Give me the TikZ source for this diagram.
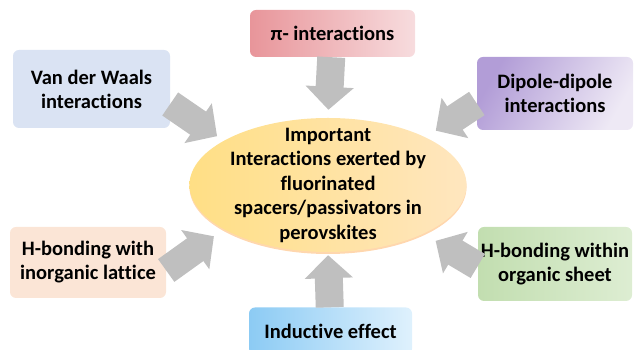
\documentclass[tikz,border=0pt]{standalone}
\usepackage{fontspec}
\setmainfont{Carlito}[Ligatures=NoCommon]
\usetikzlibrary{arrows.meta,shapes.geometric,shadows}
\definecolor{arrowgray}{HTML}{BFBFBF}
\definecolor{piL}{HTML}{E8959A}
\definecolor{piR}{HTML}{F7DCDE}
\definecolor{vdwfill}{HTML}{DAE3F3}
\definecolor{dipL}{HTML}{B29DD7}
\definecolor{dipR}{HTML}{EEE9F5}
\definecolor{inorgfill}{HTML}{FBE5D6}
\definecolor{orgL}{HTML}{C2DEB0}
\definecolor{orgR}{HTML}{DDEDD2}
\definecolor{indL}{HTML}{8CCBF4}
\definecolor{indR}{HTML}{DFF1FD}
\definecolor{coreL}{HTML}{FFDF85}
\definecolor{coreR}{HTML}{FFE6BF}
\begin{document}
\begin{tikzpicture}[x=1pt,y=1pt,
    font=\bfseries\fontsize{20.5}{24}\selectfont,
    box/.style={rounded corners=6pt, align=center, inner sep=0pt},
    bigarrow/.style={draw=arrowgray, line width=28pt, -{Triangle[length=23pt,width=47pt]}}]
    \useasboundingbox (0,0) rectangle (635,350);
    % interaction boxes
    \node[box, left color=piL, right color=piR, minimum width=165pt, minimum height=47pt] (pi) at (332.5, 316.5) {π- interactions};
    \node[box, fill=vdwfill, minimum width=157pt, minimum height=78pt] (vdw) at (91.5, 261) {Van der Waals\\interactions};
    \node[box, left color=dipL, right color=dipR, shading angle=60, minimum width=156pt, minimum height=73pt] (dip) at (555, 256.5) {Dipole-dipole\\interactions};
    \node[box, fill=inorgfill, minimum width=156pt, minimum height=71pt] (inorg) at (88, 87.5) {H-bonding with\\inorganic lattice};
    \node[box, left color=orgL, right color=orgR, minimum width=154pt, minimum height=74pt] (org) at (555, 86) {H-bonding within\\organic sheet};
    \node[box, left color=indL, right color=indR, minimum width=163pt, minimum height=47pt] (ind) at (330.5, 19) {Inductive effect};
    % centre
    \node[ellipse, left color=coreL, right color=coreR, minimum width=270pt, minimum height=134pt,
        inner xsep=0pt, inner ysep=-14pt, align=center, font=\bfseries\fontsize{20.5}{24.5}\selectfont,
        drop shadow={shadow xshift=0pt, shadow yshift=-2pt, fill=orange!70, opacity=0.45}] (core) at (328, 165)
        {Important\\Interactions exerted by\\fluorinated\\spacers/passivators in\\perovskites};
    \draw[bigarrow, shorten >=8pt] (pi) -- (core.north);
    \draw[bigarrow, shorten >=3pt] (ind) -- (core.south);
    \draw[bigarrow, shorten >=8pt] ([yshift=-15pt]vdw.east) -- (core.157);
    \draw[bigarrow, shorten >=12pt] ([yshift=-10pt]dip.west) -- (core.26);
    \draw[bigarrow, shorten >=12pt] ([yshift=-8pt]inorg.east) -- (core.203);
    \draw[bigarrow, shorten >=14pt] ([yshift=-2pt]org.west) -- (core.333);
\end{tikzpicture}
\end{document}
